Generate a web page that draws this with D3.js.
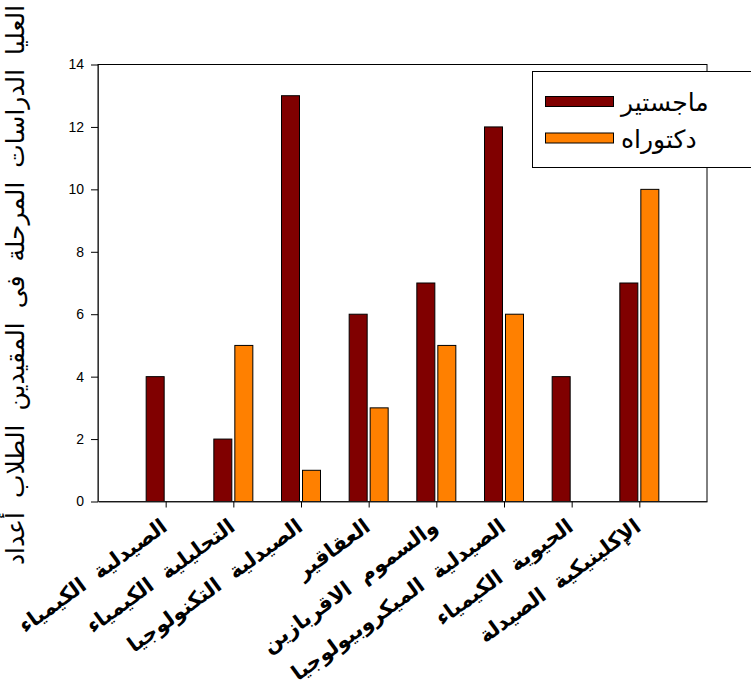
<!DOCTYPE html>
<html>
<head>
<meta charset="utf-8">
<script src="https://cdn.jsdelivr.net/npm/d3@7/dist/d3.min.js"></script>
<style>
  body { margin: 0; background: #fff; }
  svg { display: block; }
</style>
</head>
<body>
<div id="chart"></div>
<script>
// categories as they appear on the x axis (left to right)
const categories = [
  "الصيدلية الكيمياء",
  "التحليلية الكيمياء",
  "الصيدلية التكنولوجيا",
  "العقاقير",
  "والسموم الاقربازين",
  "الصيدلية الميكروبيولوجيا",
  "الحيوية الكيمياء",
  "الإكلينيكية الصيدلة"
];
const seriesNames = ["ماجستير", "دكتوراه"];
const masters = [4, 2, 13, 6, 7, 12, 4, 7];
const doctorate = [0, 5, 1, 3, 5, 6, 0, 10];
const yTicks = [0, 2, 4, 6, 8, 10, 12, 14];
const yTitle = "العليا الدراسات المرحلة فى المقيدين الطلاب أعداد";

const colors = ["#800000", "#ff8000"];

const canvWidth = 751, canvHeight = 686;
const svg = d3.select("#chart").append("svg")
    .attr("width", canvWidth)
    .attr("height", canvHeight);

// plot area
const margin = {top: 64.5, left: 98, right: 707, bottom: 501.5};

const xScale = d3.scalePoint()
    .domain(categories)
    .range([margin.left, margin.right])
    .padding(1);

const yScale = d3.scaleLinear()
    .domain([0, 14])
    .range([margin.bottom, margin.top]);

// frame
svg.append("rect")
    .attr("x", margin.left)
    .attr("y", margin.top)
    .attr("width", margin.right - margin.left)
    .attr("height", margin.bottom - margin.top)
    .attr("fill", "none")
    .attr("stroke", "#000")
    .attr("stroke-width", 1);

// bars
const barW = 18, gap = 1.5;
const rows = categories.map((c, i) => ({cat: c, vals: [masters[i], doctorate[i]]}));

const groups = svg.append("g").selectAll("g")
    .data(rows)
    .join("g");

groups.selectAll("rect")
    .data(d => d.vals.map((v, k) => ({cat: d.cat, v: v, k: k})).filter(e => e.v > 0))
    .join("rect")
    .attr("x", d => d.k === 0 ? xScale(d.cat) - gap - barW : xScale(d.cat) + gap)
    .attr("y", d => yScale(d.v))
    .attr("width", barW)
    .attr("height", d => yScale(0) - yScale(d.v))
    .attr("fill", d => colors[d.k])
    .attr("stroke", "#000")
    .attr("stroke-width", 1);

// y axis
const yAxis = d3.axisLeft(yScale)
    .tickValues(yTicks)
    .tickSize(7)
    .tickPadding(7)
    .tickSizeOuter(0);

svg.append("g")
    .attr("id", "y-axis")
    .attr("transform", "translate(" + margin.left + ",0)")
    .call(yAxis)
    .call(g => g.select(".domain").attr("stroke", "#333"))
    .call(g => g.selectAll("text")
        .attr("font-family", "Liberation Sans, Arial, sans-serif")
        .attr("font-size", 14)
        .attr("fill", "#000"));

// x axis
const xAxis = d3.axisBottom(xScale)
    .tickSize(6)
    .tickSizeOuter(0)
    .tickFormat("");

svg.append("g")
    .attr("id", "x-axis")
    .attr("transform", "translate(0," + margin.bottom + ")")
    .call(xAxis)
    .call(g => g.select(".domain").attr("stroke", "#333"));

// rotated category labels
svg.append("g").selectAll("text")
    .data(categories)
    .join("text")
    .attr("transform", d => "translate(" + (xScale(d) + 3) + "," + (margin.bottom + 28) + ") rotate(-36)")
    .attr("text-anchor", "end")
    .attr("font-family", "DejaVu Sans, sans-serif")
    .attr("font-weight", "bold")
    .attr("font-size", 21)
    .attr("word-spacing", 7)
    .text(d => d);

// y axis title
svg.append("text")
    .attr("transform", "translate(24,285) rotate(-90)")
    .attr("text-anchor", "middle")
    .attr("font-family", "DejaVu Sans, sans-serif")
    .attr("font-size", 25)
    .attr("word-spacing", 6)
    .text(yTitle);

// legend
const legend = svg.append("g").attr("id", "legend");
legend.append("rect")
    .attr("x", 532.5)
    .attr("y", 71.5)
    .attr("width", 240)
    .attr("height", 96)
    .attr("fill", "#fff")
    .attr("stroke", "#000")
    .attr("stroke-width", 1);

const items = legend.selectAll("g.item")
    .data(seriesNames)
    .join("g")
    .attr("class", "item")
    .attr("transform", (d, i) => "translate(0," + (i * 36.5) + ")");

items.append("rect")
    .attr("x", 545.5)
    .attr("y", 96.5)
    .attr("width", 68)
    .attr("height", 10)
    .attr("fill", (d, i) => colors[i])
    .attr("stroke", "#000")
    .attr("stroke-width", 1);

items.append("text")
    .attr("x", 621)
    .attr("y", 111)
    .attr("font-family", "DejaVu Sans, sans-serif")
    .attr("font-size", 25)
    .attr("word-spacing", 4)
    .text(d => d);
</script>
</body>
</html>
